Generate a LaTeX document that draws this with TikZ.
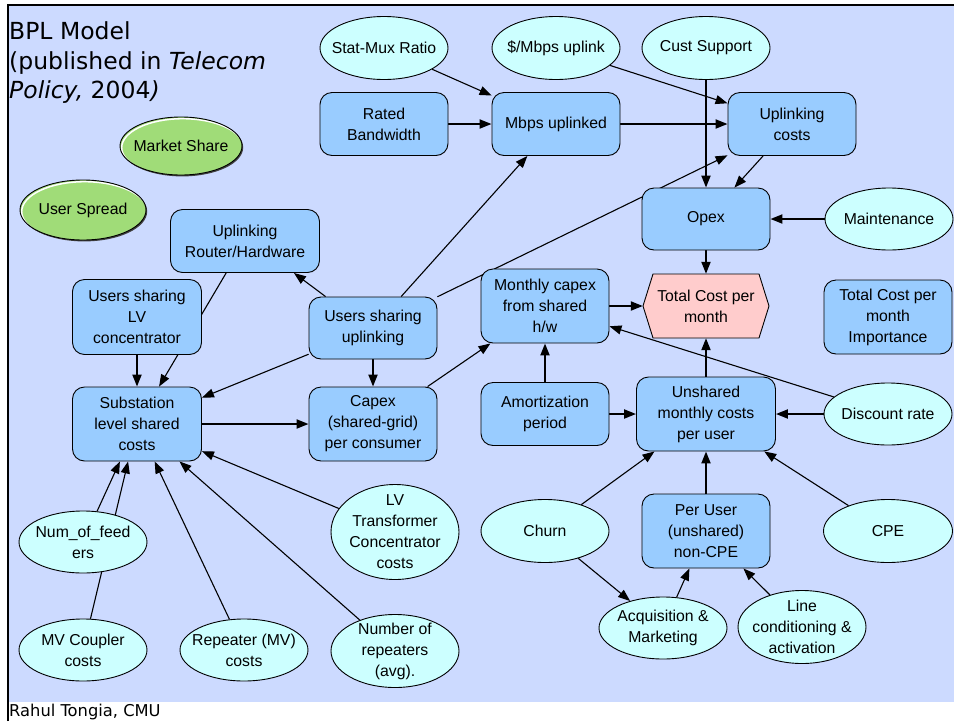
\documentclass[tikz,border=0pt]{standalone}
\usepackage{fontspec}
\setmainfont{Liberation Sans}
\newfontfamily\verdfont{DejaVu Sans}
\usetikzlibrary{shapes.geometric,arrows.meta}
\pgfdeclarelayer{bglayer}
\pgfdeclarelayer{edgelayer}
\pgfsetlayers{bglayer,edgelayer,main}
\definecolor{bgc}{RGB}{204,218,255}
\definecolor{boxc}{RGB}{153,204,255}
\definecolor{ellc}{RGB}{204,255,255}
\definecolor{grnc}{RGB}{160,220,120}
\definecolor{pinkc}{RGB}{255,204,204}
\newcommand\boxfont{\fontsize{15.8}{21}\selectfont}
\newcommand\titlefont{\verdfont\fontsize{23.5}{29.5}\selectfont}
\begin{document}
\begin{tikzpicture}[x=1pt,y=-1pt,
  box/.style={draw=black, line width=0.9pt, fill=boxc, rounded corners=12pt,
    minimum width=128pt, minimum height=63pt, inner sep=0pt, align=center, font=\boxfont},
  ell/.style={ellipse, draw=black, line width=0.9pt, fill=ellc,
    minimum width=128pt, minimum height=63pt, inner sep=-12pt, align=center, font=\boxfont},
  grn/.style 2 args={ellipse, draw=black, line width=0.9pt, fill=grnc,
    minimum width=#1pt, minimum height=#2pt, inner sep=-12pt, font=\boxfont,
    preaction={fill=black!75, transform canvas={shift={(1.2pt,-1.4pt)}}},
    path picture={\draw[white, line width=1.5pt]
      ([shift={(1.7pt,-1.7pt)}]path picture bounding box.center)
      ellipse [x radius=#1/2, y radius=#2/2];}},
  txt/.style={inner sep=0pt, anchor=base west},
  arr/.style={-{Triangle[length=12pt,width=9pt]}, line width=1.1pt},
  arrT/.style={-{Triangle[length=12pt,width=9pt]}, line width=2pt}
]
\useasboundingbox (0,0) rectangle (954,721);
\begin{pgfonlayer}{bglayer}
\fill[bgc] (8,5) rectangle (960,702);
\draw[line width=2.2pt] (8,721) -- (8,5) -- (960,5);
\end{pgfonlayer}

% titles
\node[txt, font=\titlefont] (t1) at (9,39) {BPL Model};
\node[txt, font=\titlefont] (t2) at (9,69) {(published in \textit{Telecom}};
\node[txt, font=\titlefont] (t3) at (9,98) {\textit{Policy,} 2004\textit{)}};
\node[txt, font=\verdfont\fontsize{16.3}{19}\selectfont] (auth) at (9,716) {Rahul Tongia, CMU};

% green
\node[grn={122}{58}] (ms) at (181,146) {Market Share};
\node[grn={126}{60}] (usp) at (83,210) {User Spread};

% top row
\node[ell] (smr) at (384,48) {Stat-Mux Ratio};
\node[ell] (dpm) at (556,48) {\$/Mbps uplink};
\node[ell] (cs) at (706,48) {Cust Support};
\node[box] (rb) at (384,124) {Rated\\Bandwidth};
\node[box] (mbps) at (556,124) {Mbps uplinked};
\node[box] (uc) at (792,124) {Uplinking\\costs};
\node[box, minimum height=62pt] (opex) at (706,219) {Opex};
\node[ell, minimum height=62pt] (mnt) at (889,219) {Maintenance};

% left
\node[box, minimum width=149pt] (rh) at (245,241) {Uplinking\\Router/Hardware};
\node[box, minimum width=129pt, minimum height=75pt] (lv) at (137,317) {Users sharing\\LV\\concentrator};
\node[box, minimum height=62pt] (usu) at (373,328) {Users sharing\\uplinking};
\node[box, minimum width=129pt, minimum height=74pt] (sub) at (137,424) {Substation\\level shared\\costs};
\node[box, minimum height=74pt] (cap) at (373,424) {Capex\\(shared-grid)\\per consumer};

% middle
\node[box, minimum height=74pt] (mc) at (545,306) {Monthly capex\\from shared\\h/w};
\filldraw[fill=pinkc, line width=0.9pt] (643,306) -- (653,274) -- (759,274) -- (769,306) -- (759,338) -- (653,338) -- cycle;
\node[inner sep=0pt, minimum width=126pt, minimum height=64pt, align=center, font=\boxfont] (tc) at (706,306) {Total Cost per\\month};
\node[box, minimum height=74pt] (tci) at (888,317) {Total Cost per\\month\\Importance};
\node[box] (amo) at (545,414) {Amortization\\period};
\node[box, minimum width=139pt, minimum height=74pt] (ush) at (706,414) {Unshared\\monthly costs\\per user};
\node[ell, minimum height=62pt] (dr) at (888,414) {Discount rate};

% bottom right
\node[ell] (churn) at (545,531) {Churn};
\node[box, minimum height=74pt] (pu) at (706,531) {Per User\\(unshared)\\non-CPE};
\node[ell, minimum width=129pt] (cpe) at (888,531) {CPE};
\node[ell, minimum height=62pt] (acq) at (663,628) {Acquisition \&\\Marketing};
\node[ell, minimum height=73pt] (lc) at (802,627) {Line\\conditioning \&\\activation};

% bottom left
\node[ell, minimum height=62pt] (nf) at (83,542) {Num\_of\_feed\\ers};
\node[ell, minimum height=95pt] (lvt) at (395,532) {LV\\Transformer\\Concentrator\\costs};
\node[ell, minimum height=62pt] (mvc) at (83,650) {MV Coupler\\costs};
\node[ell, minimum height=62pt] (rep) at (244,650) {Repeater (MV)\\costs};
\node[ell, minimum height=73pt] (nr) at (395,651) {Number of\\repeaters\\(avg).};

\begin{pgfonlayer}{edgelayer}
\draw[arr] (smr) -- (mbps);
\draw[arrT] (rb) -- (mbps);
\draw[arr] (dpm) -- (uc);
\draw[arrT] (mbps) -- (uc);
\draw[arrT] (cs) -- (opex);
\draw[arr] (uc) -- (opex);
\draw[arr] (usu) -- (uc);
\draw[arrT] (mnt) -- (opex);
\draw[arrT] (opex) -- (tc);
\draw[arr] (usu) -- (mbps);
\draw[arr] ([xshift=17pt]usu.north west) -- ([xshift=-26pt]rh.south east);
\draw[arr] (usu) -- (sub);
\draw[arrT] (usu) -- (cap);
\draw[arrT] (lv) -- (sub);
\draw[arr] (rh) -- (sub);
\draw[arrT] (sub) -- (cap);
\draw[arr] (cap) -- (mc);
\draw[arrT] (mc) -- (tc);
\draw[arrT] (amo) -- (mc);
\draw[arrT] (amo) -- (ush);
\draw[arrT] (dr) -- (ush);
\draw[arr] (dr) -- (mc);
\draw[arrT] (ush) -- (tc);
\draw[arr] (churn) -- (ush);
\draw[arrT] (pu) -- (ush);
\draw[arr] (cpe) -- (ush);
\draw[arr] (churn) -- (acq);
\draw[arr] (acq) -- (pu);
\draw[arr] (lc) -- (pu);
\draw[arr] (nf) -- (sub);
\draw[arr] (mvc) -- (sub);
\draw[arr] (rep) -- (sub);
\draw[arr] (nr) -- (sub);
\draw[arr] (lvt) -- (sub);
\end{pgfonlayer}
\end{tikzpicture}
\end{document}
